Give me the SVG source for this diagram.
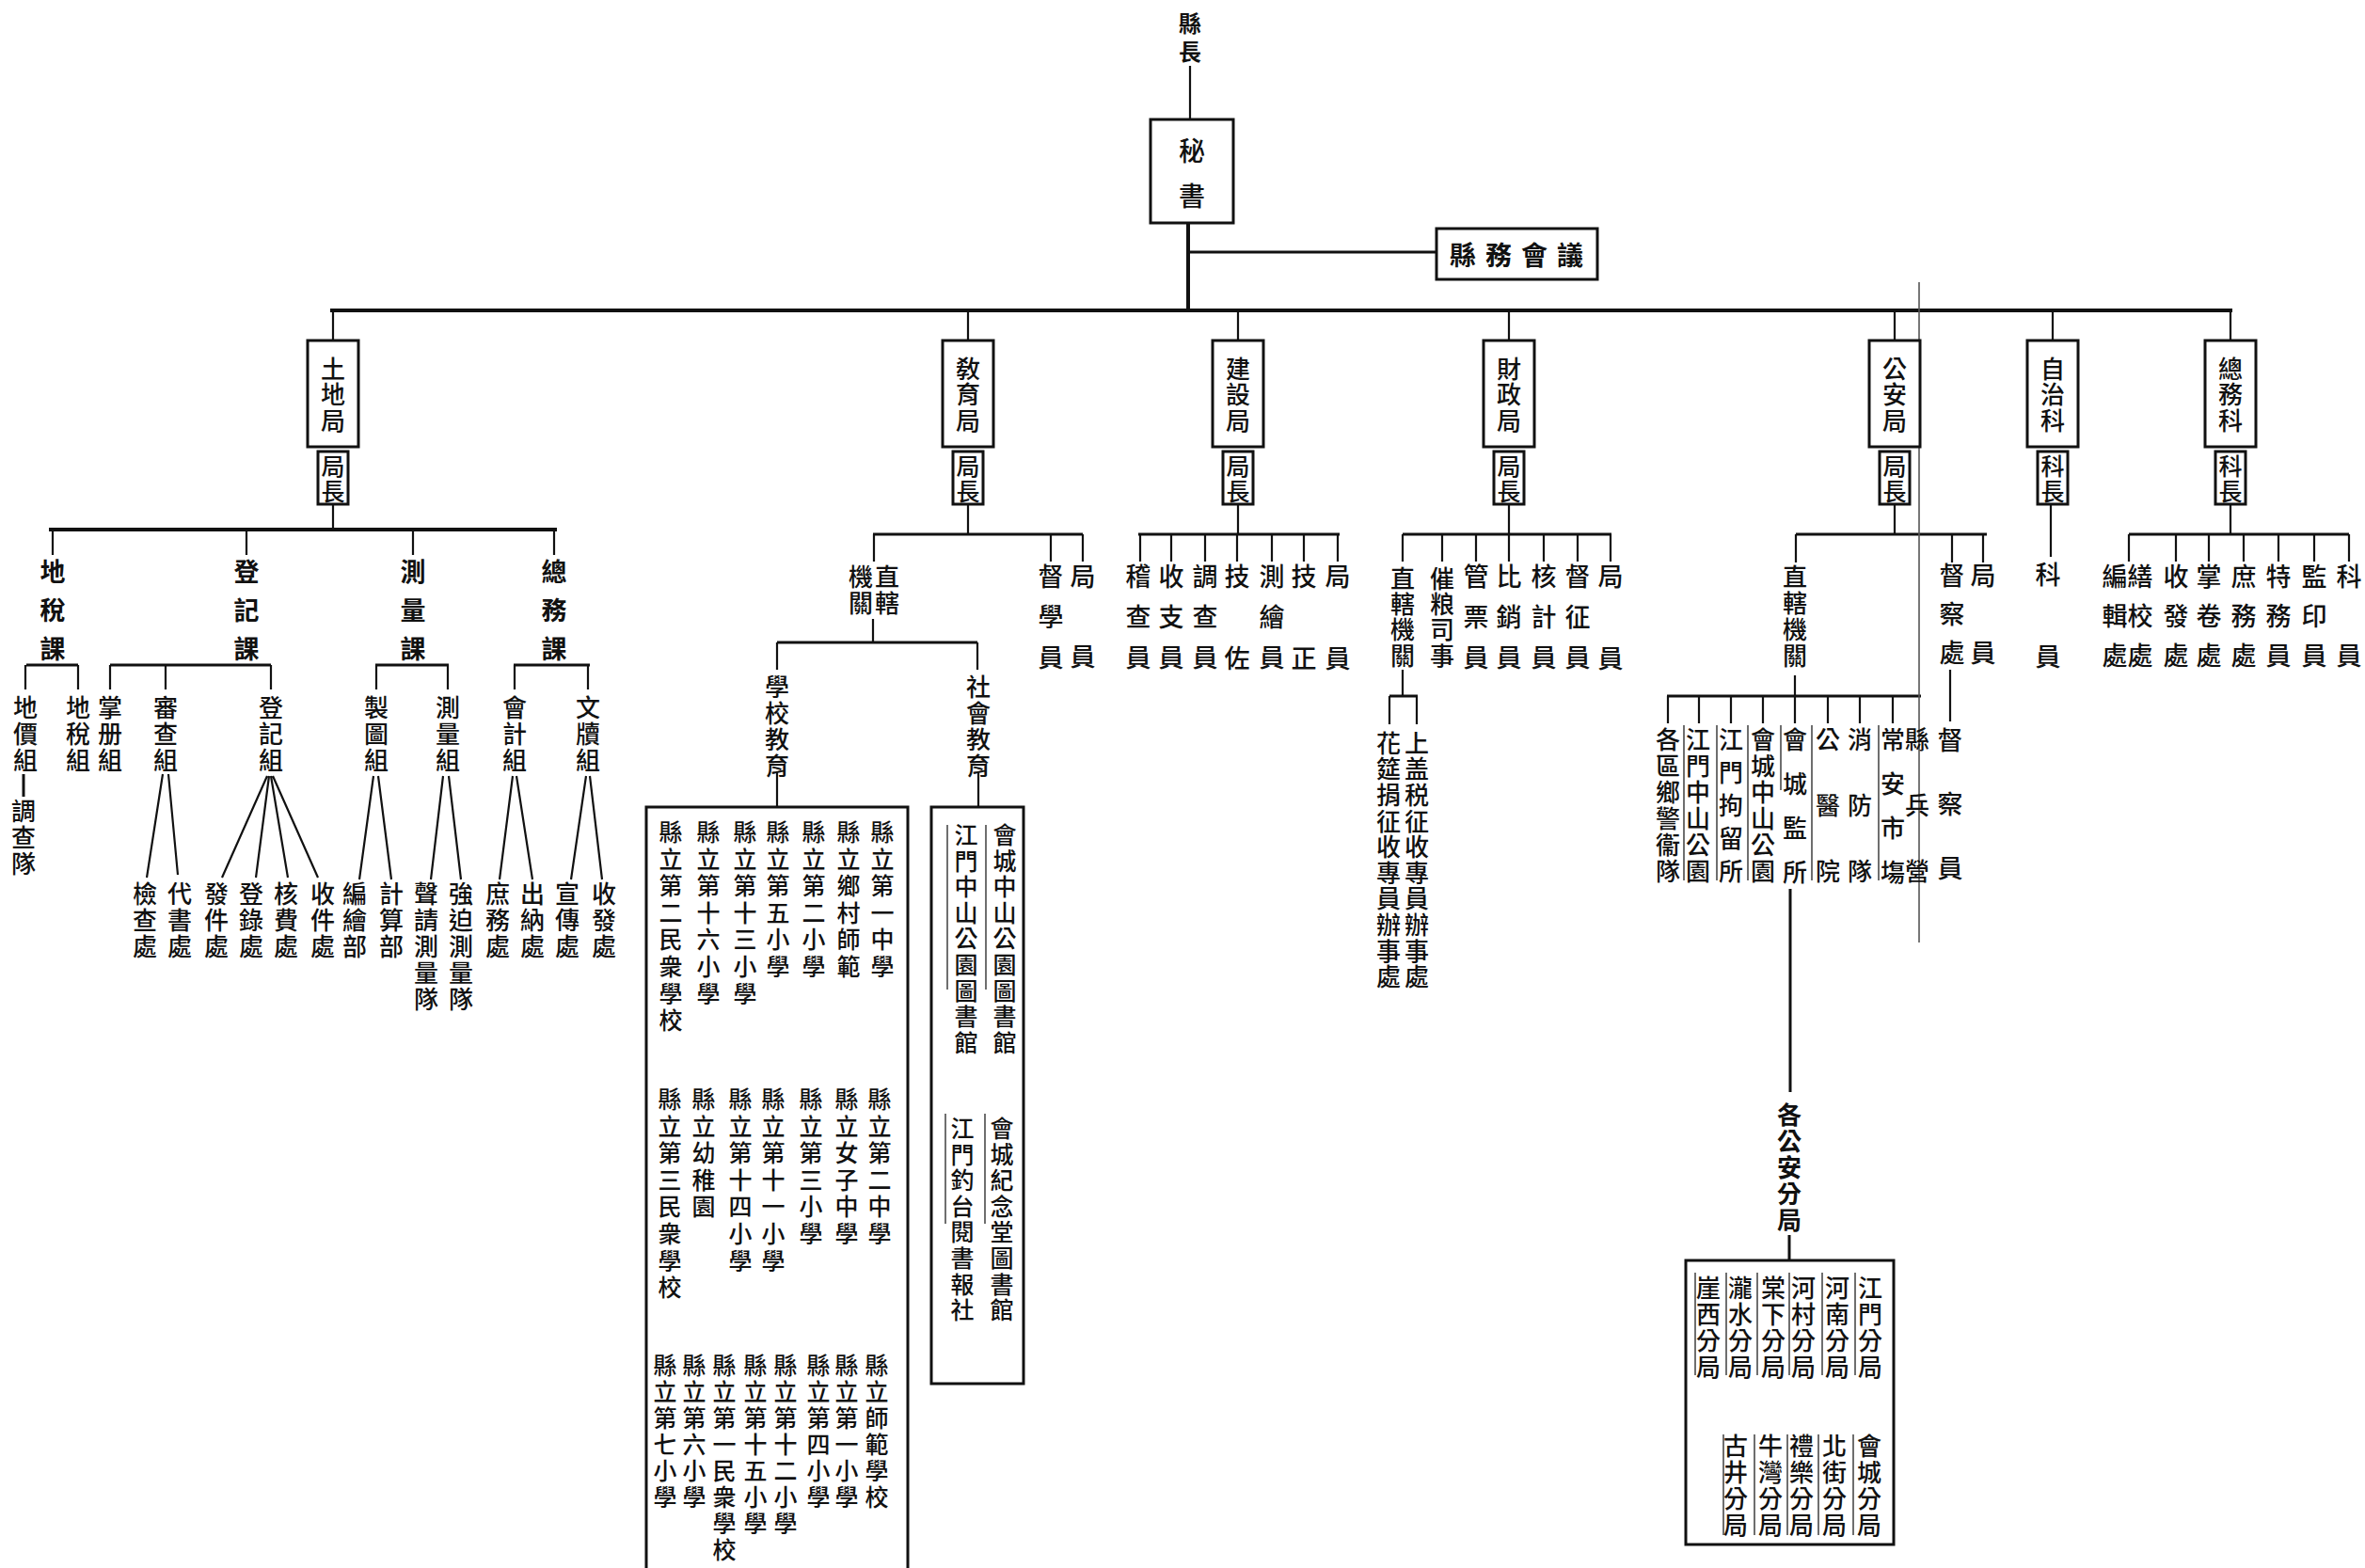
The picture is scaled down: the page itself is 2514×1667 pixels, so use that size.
<svg xmlns="http://www.w3.org/2000/svg" width="2514" height="1667" viewBox="0 0 2514 1667">
<style>
.t{font-family:"Noto Sans CJK TC","Noto Sans CJK SC",sans-serif;fill:#111;font-weight:500;}
.v{writing-mode:vertical-rl;text-anchor:start;}
.b{font-weight:bold;}
.d{font-size:26px;letter-spacing:1.5px;}
.s{font-size:25px;letter-spacing:2px;}
.f26{font-size:26px;letter-spacing:2px;}
.f25{font-size:25px;letter-spacing:3.6px;}
.f25b{font-size:25px;letter-spacing:3px;}
.f25c{font-size:25px;letter-spacing:2.6px;}
.k{font-size:27px;letter-spacing:14px;}
.w{font-size:27px;letter-spacing:16px;}
.box{fill:#fff;stroke:#111;stroke-width:3;}
.ln{stroke:#111;stroke-width:2.2;fill:none;}
.bus{stroke:#111;stroke-width:4;fill:none;}
.mb{stroke:#111;stroke-width:3;fill:none;}
.mk{stroke:#222;stroke-width:1.3;fill:none;}
</style>
<rect width="2514" height="1667" fill="#fff"/>

<g id="connectors">
<path class="ln" d="M1265 70V127"/>
<path class="bus" d="M1263 237V330"/>
<path class="mb" d="M1263 268H1527"/>
<path class="bus" d="M351 330H2373"/>
<path class="ln" d="M354 330V362M1029 330V362M1316 330V362M1604 330V362M2014 330V362M2182 330V362M2371 330V362"/>
<path class="ln" d="M354 536V563M1029 536V568M1316 536V568M1604 536V568M2014 536V568M2371 536V568M2180 536V592"/>
<path class="bus" d="M52 563H592"/>
<path class="ln" d="M56 563V590M262 563V590M439 563V590M589 563V590"/>
<path class="mb" d="M28 707H83M117 707H288M399 707H477M546 707H627"/>
<path class="ln" d="M27 707V733M83 707V733M117 707V733M176 707V733M288 707V733M400 707V733M476 707V733M547 707V733M625 707V733"/>
<path class="mb" d="M25 823V847"/>
<path class="ln" d="M173 823L156 933M179 823L189 930M284 825L236 933M286 825L272 933M288 825L306 933M290 825L338 933M397 825L382 935M402 825L416 935M471 825L458 935M477 825L490 935M545 825L531 935M549 825L566 935M623 825L607 935M627 825L640 935"/>
<path class="mb" d="M928 568H1151"/>
<path class="ln" d="M929 568V597M1117 568V597M1151 568V597M928 658V683"/>
<path class="mb" d="M826 683H1039"/>
<path class="ln" d="M826 683V712M1039 683V712M826 820V858M1040 820V858"/>
<path class="mb" d="M1210 568H1424"/>
<path class="ln" d="M1212 568V597M1245 568V597M1281 568V597M1315 568V597M1352 568V597M1386 568V597M1422 568V597"/>
<path class="mb" d="M1491 568H1713"/>
<path class="ln" d="M1491 568V597M1533 568V597M1569 568V597M1604 568V597M1641 568V597M1677 568V597M1712 568V597M1491 712V740"/>
<path class="mb" d="M1477 740H1507"/>
<path class="ln" d="M1477 740V770M1506 740V770"/>
<path class="mb" d="M1909 568H2112"/>
<path class="ln" d="M1909 568V598M2075 568V598M2108 568V598M1908 718V740"/>
<path class="mb" d="M1772 740H2042"/>
<path class="ln" d="M1773 740V769M1806 740V769M1840 740V769M1874 740V769M1908 740V769M1943 740V769M1977 740V769M2012 740V769M2073 712V767"/>
<path class="mb" d="M1903 945V1161M1902 1313V1340"/>
<path d="M2040 300V1002" stroke="#555" stroke-width="1.6" fill="none"/>
<path class="mb" d="M2263 568H2497"/>
<path class="ln" d="M2263 568V597M2313 568V597M2348 568V597M2385 568V597M2422 568V597M2460 568V597M2497 568V597"/>
</g>

<g id="county-head"><text class="t v b" x="1265" y="13" style="font-size:24px;letter-spacing:6px">縣長</text></g>
<g id="secretary"><rect class="box" x="1223" y="127" width="88" height="110"/><text class="t v" x="1267" y="146" style="font-size:28px;letter-spacing:20px">秘書</text></g>
<g id="county-council"><rect class="box" x="1527" y="243" width="171" height="54"/><text class="t b" x="1617" y="282" text-anchor="middle" style="font-size:28px;letter-spacing:10px">縣務會議</text></g>

<g id="land-bureau">
<rect class="box" x="327" y="362" width="54" height="113"/><text class="t v d" x="354" y="379">土地局</text>
<rect class="box" x="338" y="480" width="32" height="56"/><text class="t v s" x="354" y="483">局長</text>
</g>
<g id="land-sections">
<text class="t v k b" x="56" y="594">地稅課</text>
<text class="t v k b" x="262" y="594">登記課</text>
<text class="t v k b" x="439" y="594">測量課</text>
<text class="t v k b" x="589" y="594">總務課</text>
<text class="t v f26" x="27" y="739">地價組</text>
<text class="t v f26" x="25" y="849">調查隊</text>
<text class="t v f26" x="83" y="739">地稅組</text>
<text class="t v f26" x="117" y="739">掌册組</text>
<text class="t v f26" x="176" y="739">審查組</text>
<text class="t v f26" x="288" y="739">登記組</text>
<text class="t v f26" x="400" y="739">製圖組</text>
<text class="t v f26" x="476" y="739">測量組</text>
<text class="t v f26" x="547" y="739">會計組</text>
<text class="t v f26" x="625" y="739">文牘組</text>
<text class="t v f26" x="154" y="937">檢查處</text>
<text class="t v f26" x="191" y="937">代書處</text>
<text class="t v f26" x="230" y="937">發件處</text>
<text class="t v f26" x="267" y="937">登錄處</text>
<text class="t v f26" x="304" y="937">核費處</text>
<text class="t v f26" x="343" y="937">收件處</text>
<text class="t v f26" x="377" y="937">編繪部</text>
<text class="t v f26" x="416" y="937">計算部</text>
<text class="t v f26" x="453" y="937">聲請測量隊</text>
<text class="t v f26" x="490" y="937">強迫測量隊</text>
<text class="t v f26" x="529" y="937">庶務處</text>
<text class="t v f26" x="566" y="937">出納處</text>
<text class="t v f26" x="603" y="937">宣傳處</text>
<text class="t v f26" x="642" y="937">收發處</text>
</g>

<g id="education-bureau">
<rect class="box" x="1002" y="362" width="54" height="113"/><text class="t v d" x="1029" y="379">敎育局</text>
<rect class="box" x="1013" y="480" width="32" height="56"/><text class="t v s" x="1029" y="483">局長</text>
</g>
<g id="education-units">
<text class="t v f26" x="943" y="600">直轄</text>
<text class="t v f26" x="915" y="600">機關</text>
<text class="t v w" x="1117" y="599">督學員</text>
<text class="t v" x="1151" y="599" style="font-size:27px;letter-spacing:58px">局員</text>
<text class="t v f26" x="826" y="717">學校教育</text>
<text class="t v f26" x="1040" y="717">社會教育</text>
</g>
<g id="schools">
<path class="mb" d="M687 1667V858H965V1667"/>
<text class="t v f25" x="938" y="872">縣立第一中學</text>
<text class="t v f25" x="902" y="872">縣立鄉村師範</text>
<text class="t v f25" x="865" y="872">縣立第二小學</text>
<text class="t v f25" x="827" y="872">縣立第五小學</text>
<text class="t v f25" x="792" y="872">縣立第十三小學</text>
<text class="t v f25" x="753" y="872">縣立第十六小學</text>
<text class="t v f25" x="713" y="872">縣立第二民衆學校</text>
<text class="t v f25" x="935" y="1156">縣立第二中學</text>
<text class="t v f25" x="900" y="1156">縣立女子中學</text>
<text class="t v f25" x="862" y="1156">縣立第三小學</text>
<text class="t v f25" x="822" y="1156">縣立第十一小學</text>
<text class="t v f25" x="787" y="1156">縣立第十四小學</text>
<text class="t v f25" x="748" y="1156">縣立幼稚園</text>
<text class="t v f25" x="712" y="1156">縣立第三民衆學校</text>
<text class="t v f25b" x="932" y="1439">縣立師範學校</text>
<text class="t v f25b" x="900" y="1439">縣立第一小學</text>
<text class="t v f25b" x="870" y="1439">縣立第四小學</text>
<text class="t v f25b" x="835" y="1439">縣立第十二小學</text>
<text class="t v f25b" x="803" y="1439">縣立第十五小學</text>
<text class="t v f25b" x="770" y="1439">縣立第一民衆學校</text>
<text class="t v f25b" x="738" y="1439">縣立第六小學</text>
<text class="t v f25b" x="707" y="1439">縣立第七小學</text>
</g>
<g id="social-education">
<rect class="box" x="990" y="858" width="98" height="613"/>
<text class="t v f25c" x="1068" y="875">會城中山公園圖書館</text>
<text class="t v f25c" x="1027" y="875">江門中山公園圖書館</text>
<text class="t v f25c" x="1065" y="1187">會城紀念堂圖書館</text>
<text class="t v f25c" x="1023" y="1187">江門釣台閱書報社</text>
<path class="mk" d="M1048 877V1052M1007 877V1052M1047 1184V1301M1005 1184V1301"/>
</g>

<g id="construction-bureau">
<rect class="box" x="1289" y="362" width="54" height="113"/><text class="t v d" x="1316" y="379">建設局</text>
<rect class="box" x="1300" y="480" width="32" height="56"/><text class="t v s" x="1316" y="483">局長</text>
</g>
<g id="construction-staff">
<text class="t v w" x="1210" y="599">稽查員</text>
<text class="t v w" x="1245" y="599">收支員</text>
<text class="t v w" x="1281" y="599">調查員</text>
<text class="t v" x="1315" y="599" style="font-size:27px;letter-spacing:60px">技佐</text>
<text class="t v w" x="1352" y="599">測繪員</text>
<text class="t v" x="1386" y="599" style="font-size:27px;letter-spacing:60px">技正</text>
<text class="t v" x="1422" y="599" style="font-size:27px;letter-spacing:60px">局員</text>
</g>

<g id="finance-bureau">
<rect class="box" x="1577" y="362" width="54" height="113"/><text class="t v d" x="1604" y="379">財政局</text>
<rect class="box" x="1588" y="480" width="32" height="56"/><text class="t v s" x="1604" y="483">局長</text>
</g>
<g id="finance-staff">
<text class="t v" x="1491" y="602" style="font-size:26px;letter-spacing:1.3px">直轄機關</text>
<text class="t v" x="1533" y="602" style="font-size:26px;letter-spacing:1.3px">催粮司事</text>
<text class="t v w" x="1569" y="599">管票員</text>
<text class="t v w" x="1604" y="599">比銷員</text>
<text class="t v w" x="1641" y="599">核計員</text>
<text class="t v w" x="1677" y="599">督征員</text>
<text class="t v" x="1712" y="599" style="font-size:27px;letter-spacing:60px">局員</text>
<text class="t v" x="1476" y="777" style="font-size:26px;letter-spacing:1.6px">花筵捐征收專員辦事處</text>
<text class="t v" x="1506" y="777" style="font-size:26px;letter-spacing:1.6px">上盖税征收專員辦事處</text>
</g>

<g id="public-security-bureau">
<rect class="box" x="1987" y="362" width="54" height="113"/><text class="t v d" x="2014" y="379">公安局</text>
<rect class="box" x="1998" y="480" width="32" height="56"/><text class="t v s" x="2014" y="483">局長</text>
</g>
<g id="public-security-units">
<text class="t v f26" x="1908" y="600">直轄機關</text>
<text class="t v" x="2075" y="598" style="font-size:27px;letter-spacing:14px">督察處</text>
<text class="t v" x="2108" y="598" style="font-size:27px;letter-spacing:55px">局員</text>
<text class="t v" x="2073" y="773" style="font-size:27px;letter-spacing:41px">督察員</text>
<text class="t v f26" x="1773" y="773">各區鄉警衞隊</text>
<text class="t v f26" x="1805" y="773">江門中山公園</text>
<text class="t v" x="1840" y="773" style="font-size:26px;letter-spacing:9px">江門拘留所</text>
<text class="t v f26" x="1874" y="773">會城中山公園</text>
<text class="t v" x="1908" y="773" style="font-size:26px;letter-spacing:21px">會城監所</text>
<text class="t v" x="1943" y="773" style="font-size:26px;letter-spacing:44px">公醫院</text>
<text class="t v" x="1977" y="773" style="font-size:26px;letter-spacing:44px">消防隊</text>
<text class="t v" x="2012" y="773" style="font-size:26px;letter-spacing:21px">常安市塲</text>
<text class="t v" x="2038" y="773" style="font-size:26px;letter-spacing:44px">縣兵營</text>
<path class="mk" d="M1790 771V936M1825 771V936M1858 771V936M1893 771V840M1926 771V936M1997 771V936"/>
<text class="t v f26 b" x="1902" y="1172">各公安分局</text>
</g>
<g id="police-substations">
<rect class="box" x="1792" y="1340" width="221" height="302"/>
<text class="t v f26" x="1988" y="1356">江門分局</text>
<text class="t v f26" x="1953" y="1356">河南分局</text>
<text class="t v f26" x="1917" y="1356">河村分局</text>
<text class="t v f26" x="1885" y="1356">棠下分局</text>
<text class="t v f26" x="1850" y="1356">瀧水分局</text>
<text class="t v f26" x="1816" y="1356">崖西分局</text>
<text class="t v f26" x="1987" y="1524">會城分局</text>
<text class="t v f26" x="1950" y="1524">北街分局</text>
<text class="t v f26" x="1915" y="1524">禮樂分局</text>
<text class="t v f26" x="1882" y="1524">牛灣分局</text>
<text class="t v f26" x="1845" y="1524">古井分局</text>
<path class="mk" d="M1972 1353V1462M1937 1353V1462M1902 1353V1462M1868 1353V1462M1835 1353V1462M1802 1353V1462M1970 1525V1632M1933 1525V1632M1900 1525V1632M1865 1525V1632M1832 1525V1632"/>
</g>

<g id="self-government-section">
<rect class="box" x="2155" y="362" width="54" height="113"/><text class="t v d" x="2182" y="379">自治科</text>
<rect class="box" x="2166" y="480" width="32" height="56"/><text class="t v s" x="2182" y="483">科長</text>
<text class="t v" x="2177" y="597" style="font-size:27px;letter-spacing:60px">科員</text>
</g>

<g id="general-affairs-section">
<rect class="box" x="2344" y="362" width="54" height="113"/><text class="t v d" x="2371" y="379">總務科</text>
<rect class="box" x="2355" y="480" width="32" height="56"/><text class="t v s" x="2371" y="483">科長</text>
</g>
<g id="general-affairs-staff">
<text class="t v" x="2248" y="599" style="font-size:27px;letter-spacing:15px">編輯處</text>
<text class="t v" x="2275" y="599" style="font-size:27px;letter-spacing:15px">繕校處</text>
<text class="t v" x="2313" y="599" style="font-size:27px;letter-spacing:15px">收發處</text>
<text class="t v" x="2348" y="599" style="font-size:27px;letter-spacing:15px">掌卷處</text>
<text class="t v" x="2385" y="599" style="font-size:27px;letter-spacing:15px">庶務處</text>
<text class="t v" x="2422" y="599" style="font-size:27px;letter-spacing:15px">特務員</text>
<text class="t v" x="2460" y="599" style="font-size:27px;letter-spacing:15px">監印員</text>
<text class="t v" x="2497" y="599" style="font-size:27px;letter-spacing:57px">科員</text>
</g>
</svg>
